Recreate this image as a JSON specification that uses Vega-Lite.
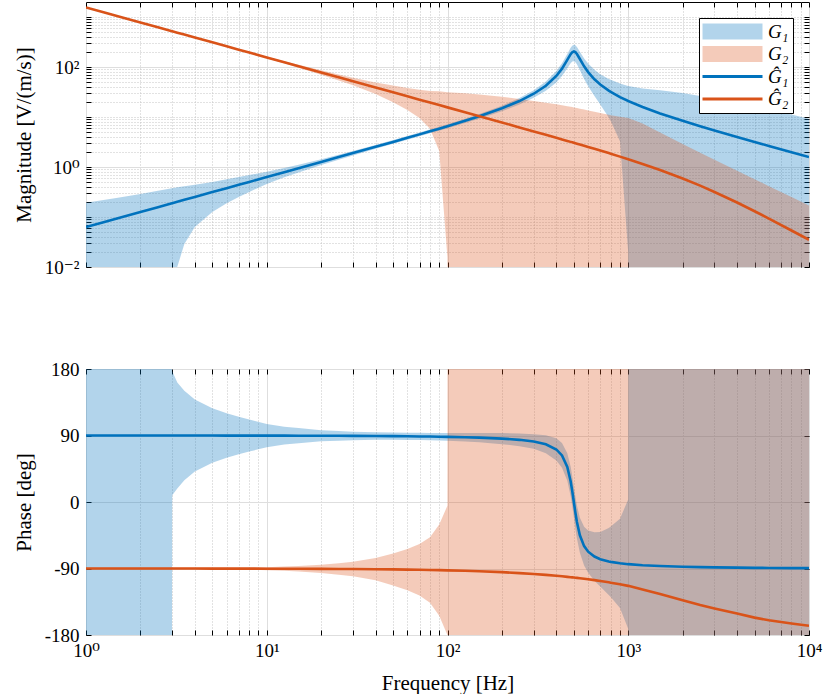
{
  "$schema": "https://vega.github.io/schema/vega-lite/v6.json",
  "padding": {"left": 12, "top": 1, "right": 20, "bottom": 0},
  "data": {"values": [
    {"f": 1, "g1": 0.063, "g1lo": 0.001, "g1hi": 0.192, "p1": 89.98, "p1lo": -180, "p1hi": 180, "g2": 1560, "g2lo": 1529, "g2hi": 1591, "p2": -90.02, "p2lo": -91.17, "p2hi": -88.87},
    {"f": 1.25, "g1": 0.0788, "g1lo": 0.001, "g1hi": 0.218, "p1": 89.98, "p1lo": -180, "p1hi": 180, "g2": 1248, "g2lo": 1223, "g2hi": 1273, "p2": -90.03, "p2lo": -91.18, "p2hi": -88.88},
    {"f": 1.5, "g1": 0.0945, "g1lo": 0.001, "g1hi": 0.243, "p1": 89.97, "p1lo": -180, "p1hi": 180, "g2": 1040, "g2lo": 1019, "g2hi": 1061, "p2": -90.04, "p2lo": -91.19, "p2hi": -88.89},
    {"f": 2, "g1": 0.126, "g1lo": 0.001, "g1hi": 0.29, "p1": 89.96, "p1lo": -180, "p1hi": 180, "g2": 780, "g2lo": 764, "g2hi": 796, "p2": -90.05, "p2lo": -91.2, "p2hi": -88.9},
    {"f": 2.5, "g1": 0.1575, "g1lo": 0.001, "g1hi": 0.335, "p1": 89.96, "p1lo": -180, "p1hi": 180, "g2": 624, "g2lo": 612, "g2hi": 636, "p2": -90.06, "p2lo": -91.21, "p2hi": -88.91},
    {"f": 2.99, "g1": 0.1884, "g1lo": 0.001, "g1hi": 0.377, "p1": 89.95, "p1lo": -180, "p1hi": 180, "g2": 521.7, "g2lo": 511, "g2hi": 532, "p2": -90.07, "p2lo": -91.22, "p2hi": -88.92},
    {"f": 3, "g1": 0.189, "g1lo": 0.001, "g1hi": 0.378, "p1": 89.95, "p1lo": 9, "p1hi": 177, "g2": 520, "g2lo": 510, "g2hi": 530, "p2": -90.07, "p2lo": -91.22, "p2hi": -88.92},
    {"f": 3.2, "g1": 0.2016, "g1lo": 0.0101, "g1hi": 0.393, "p1": 89.94, "p1lo": 18.2, "p1hi": 161.8, "g2": 487.5, "g2lo": 478, "g2hi": 497, "p2": -90.08, "p2lo": -91.23, "p2hi": -88.93},
    {"f": 3.5, "g1": 0.2205, "g1lo": 0.0287, "g1hi": 0.412, "p1": 89.94, "p1lo": 29.5, "p1hi": 150.5, "g2": 445.7, "g2lo": 437, "g2hi": 455, "p2": -90.09, "p2lo": -91.24, "p2hi": -88.94},
    {"f": 4, "g1": 0.252, "g1lo": 0.063, "g1hi": 0.441, "p1": 89.93, "p1lo": 41.4, "p1hi": 138.6, "g2": 390, "g2lo": 382, "g2hi": 398, "p2": -90.1, "p2lo": -91.25, "p2hi": -88.95},
    {"f": 5, "g1": 0.315, "g1lo": 0.126, "g1hi": 0.504, "p1": 89.91, "p1lo": 53.1, "p1hi": 126.9, "g2": 312, "g2lo": 306, "g2hi": 318, "p2": -90.12, "p2lo": -91.27, "p2hi": -88.97},
    {"f": 6, "g1": 0.378, "g1lo": 0.189, "g1hi": 0.567, "p1": 89.89, "p1lo": 60, "p1hi": 120, "g2": 260, "g2lo": 254.5, "g2hi": 265.5, "p2": -90.15, "p2lo": -91.35, "p2hi": -88.95},
    {"f": 7, "g1": 0.441, "g1lo": 0.251, "g1hi": 0.631, "p1": 89.88, "p1lo": 64.5, "p1hi": 115.5, "g2": 222.9, "g2lo": 218.1, "g2hi": 227.7, "p2": -90.17, "p2lo": -91.43, "p2hi": -88.91},
    {"f": 8, "g1": 0.504, "g1lo": 0.318, "g1hi": 0.69, "p1": 89.86, "p1lo": 68.3, "p1hi": 111.7, "g2": 195, "g2lo": 190.5, "g2hi": 199.5, "p2": -90.2, "p2lo": -91.52, "p2hi": -88.88},
    {"f": 10, "g1": 0.63, "g1lo": 0.46, "g1hi": 0.8, "p1": 89.82, "p1lo": 74.1, "p1hi": 105.5, "g2": 156, "g2lo": 150.5, "g2hi": 161.5, "p2": -90.25, "p2lo": -92.25, "p2hi": -88.25},
    {"f": 12.5, "g1": 0.788, "g1lo": 0.622, "g1hi": 0.953, "p1": 89.78, "p1lo": 77.8, "p1hi": 102, "g2": 124.8, "g2lo": 118.6, "g2hi": 131, "p2": -90.31, "p2lo": -93.18, "p2hi": -87.44},
    {"f": 15, "g1": 0.945, "g1lo": 0.775, "g1hi": 1.115, "p1": 89.74, "p1lo": 79.5, "p1hi": 100.3, "g2": 104, "g2lo": 97.2, "g2hi": 110.8, "p2": -90.37, "p2lo": -94.1, "p2hi": -86.64},
    {"f": 20, "g1": 1.262, "g1lo": 1.098, "g1hi": 1.426, "p1": 89.65, "p1lo": 82.2, "p1hi": 97.1, "g2": 78, "g2lo": 70.2, "g2hi": 85.8, "p2": -90.5, "p2lo": -96.24, "p2hi": -84.76},
    {"f": 25, "g1": 1.579, "g1lo": 1.397, "g1hi": 1.761, "p1": 89.56, "p1lo": 83, "p1hi": 96.2, "g2": 62.4, "g2lo": 54, "g2hi": 70.8, "p2": -90.62, "p2lo": -98.38, "p2hi": -82.86},
    {"f": 30, "g1": 1.897, "g1lo": 1.707, "g1hi": 2.087, "p1": 89.47, "p1lo": 83.7, "p1hi": 95.2, "g2": 52, "g2lo": 43.2, "g2hi": 60.8, "p2": -90.75, "p2lo": -100.54, "p2hi": -80.96},
    {"f": 40, "g1": 2.536, "g1lo": 2.308, "g1hi": 2.764, "p1": 89.29, "p1lo": 84.1, "p1hi": 94.5, "g2": 39, "g2lo": 28.9, "g2hi": 49.1, "p2": -91, "p2lo": -106.07, "p2hi": -75.93},
    {"f": 50, "g1": 3.182, "g1lo": 2.912, "g1hi": 3.452, "p1": 89.11, "p1lo": 84.2, "p1hi": 94, "g2": 31.2, "g2lo": 19.7, "g2hi": 42.7, "p2": -91.25, "p2lo": -112.97, "p2hi": -69.53},
    {"f": 60, "g1": 3.835, "g1lo": 3.509, "g1hi": 4.161, "p1": 88.93, "p1lo": 84.05, "p1hi": 93.8, "g2": 26, "g2lo": 13.8, "g2hi": 38.2, "p2": -91.49, "p2lo": -119.53, "p2hi": -63.45},
    {"f": 70, "g1": 4.498, "g1lo": 4.116, "g1hi": 4.88, "p1": 88.74, "p1lo": 83.86, "p1hi": 93.62, "g2": 22.28, "g2lo": 9.58, "g2hi": 35, "p2": -91.74, "p2lo": -126.49, "p2hi": -56.99},
    {"f": 80, "g1": 5.172, "g1lo": 4.722, "g1hi": 5.622, "p1": 88.55, "p1lo": 83.56, "p1hi": 93.54, "g2": 19.5, "g2lo": 5.85, "g2hi": 33.2, "p2": -91.99, "p2lo": -136.42, "p2hi": -47.56},
    {"f": 90, "g1": 5.86, "g1lo": 5.344, "g1hi": 6.376, "p1": 88.36, "p1lo": 83.31, "p1hi": 93.41, "g2": 17.33, "g2lo": 2.08, "g2hi": 32.6, "p2": -92.24, "p2lo": -153.88, "p2hi": -30.6},
    {"f": 99.9, "g1": 6.556, "g1lo": 5.966, "g1hi": 7.146, "p1": 88.16, "p1lo": 83, "p1hi": 93.32, "g2": 15.6, "g2lo": 0.0156, "g2hi": 31.2, "p2": -92.49, "p2lo": -179.93, "p2hi": -5.05},
    {"f": 100, "g1": 6.5625, "g1lo": 5.972, "g1hi": 7.153, "p1": 88.16, "p1lo": 83, "p1hi": 93.32, "g2": 15.59, "g2lo": 0.001, "g2hi": 31.2, "p2": -92.49, "p2lo": -180, "p2hi": 180},
    {"f": 125, "g1": 8.4, "g1lo": 7.56, "g1hi": 9.24, "p1": 87.65, "p1lo": 81.9, "p1hi": 93.4, "g2": 12.46, "g2lo": 0.001, "g2hi": 29.8, "p2": -93.11, "p2lo": -180, "p2hi": 180},
    {"f": 150, "g1": 10.385, "g1lo": 9.243, "g1hi": 11.527, "p1": 87.1, "p1lo": 80.8, "p1hi": 93.4, "g2": 10.38, "g2lo": 0.001, "g2hi": 28.3, "p2": -93.73, "p2lo": -180, "p2hi": 180},
    {"f": 200, "g1": 14.96, "g1lo": 13.015, "g1hi": 16.905, "p1": 85.81, "p1lo": 78.3, "p1hi": 93.3, "g2": 7.77, "g2lo": 0.001, "g2hi": 25.5, "p2": -94.97, "p2lo": -180, "p2hi": 180},
    {"f": 250, "g1": 20.89, "g1lo": 17.76, "g1hi": 24.02, "p1": 84.14, "p1lo": 75.5, "p1hi": 92.8, "g2": 6.205, "g2lo": 0.001, "g2hi": 23, "p2": -96.2, "p2lo": -180, "p2hi": 180},
    {"f": 300, "g1": 29.23, "g1lo": 24.26, "g1hi": 34.2, "p1": 81.8, "p1lo": 72, "p1hi": 91.6, "g2": 5.157, "g2lo": 0.001, "g2hi": 21, "p2": -97.43, "p2lo": -180, "p2hi": 180},
    {"f": 350, "g1": 42.3, "g1lo": 33.42, "g1hi": 51.18, "p1": 78.1, "p1lo": 66, "p1hi": 90.2, "g2": 4.406, "g2lo": 0.001, "g2hi": 19.4, "p2": -98.65, "p2lo": -180, "p2hi": 180},
    {"f": 400, "g1": 66.2, "g1lo": 49, "g1hi": 83.4, "p1": 71.1, "p1lo": 56, "p1hi": 86.2, "g2": 3.842, "g2lo": 0.001, "g2hi": 18, "p2": -99.87, "p2lo": -180, "p2hi": 180},
    {"f": 430, "g1": 92.8, "g1lo": 65.9, "g1hi": 119.7, "p1": 63.1, "p1lo": 46.2, "p1hi": 80, "g2": 3.567, "g2lo": 0.001, "g2hi": 17.2, "p2": -100.59, "p2lo": -180, "p2hi": 180},
    {"f": 460, "g1": 138.7, "g1lo": 94.3, "g1hi": 183.1, "p1": 47.4, "p1lo": 28.7, "p1hi": 66.1, "g2": 3.33, "g2lo": 0.001, "g2hi": 16.5, "p2": -101.31, "p2lo": -180, "p2hi": 180},
    {"f": 480, "g1": 180.9, "g1lo": 119.4, "g1hi": 242.4, "p1": 28, "p1lo": 8.1, "p1hi": 47.9, "g2": 3.184, "g2lo": 0.001, "g2hi": 16, "p2": -101.79, "p2lo": -180, "p2hi": 180},
    {"f": 490, "g1": 198, "g1lo": 128.7, "g1hi": 267.3, "p1": 14.7, "p1lo": -5.8, "p1hi": 35.2, "g2": 3.114, "g2lo": 0.001, "g2hi": 15.8, "p2": -102, "p2lo": -180, "p2hi": 180},
    {"f": 500, "g1": 204.8, "g1lo": 131.1, "g1hi": 278.5, "p1": 0, "p1lo": -21.1, "p1hi": 21.1, "g2": 3.048, "g2lo": 0.001, "g2hi": 15.5, "p2": -102.27, "p2lo": -180, "p2hi": 180},
    {"f": 510, "g1": 198.3, "g1lo": 124.9, "g1hi": 271.7, "p1": -14.4, "p1lo": -36.1, "p1hi": 7.3, "g2": 2.986, "g2lo": 0.001, "g2hi": 15.3, "p2": -102.5, "p2lo": -180, "p2hi": 180},
    {"f": 520, "g1": 182.4, "g1lo": 113.1, "g1hi": 251.7, "p1": -27, "p1lo": -49.3, "p1hi": -4.7, "g2": 2.925, "g2lo": 0.001, "g2hi": 15.1, "p2": -102.74, "p2lo": -180, "p2hi": 180},
    {"f": 540, "g1": 144.6, "g1lo": 86.8, "g1hi": 202.4, "p1": -45, "p1lo": -68.6, "p1hi": -21.4, "g2": 2.81, "g2lo": 0.001, "g2hi": 14.7, "p2": -103.21, "p2lo": -180, "p2hi": 180},
    {"f": 570, "g1": 103.4, "g1lo": 57.9, "g1hi": 148.9, "p1": -59.7, "p1lo": -85.8, "p1hi": -33.6, "g2": 2.653, "g2lo": 0.001, "g2hi": 14.1, "p2": -103.92, "p2lo": -180, "p2hi": 180},
    {"f": 600, "g1": 79.2, "g1lo": 41.2, "g1hi": 117.2, "p1": -67.2, "p1lo": -95.9, "p1hi": -38.5, "g2": 2.509, "g2lo": 0.001, "g2hi": 13.5, "p2": -104.62, "p2lo": -180, "p2hi": 180},
    {"f": 650, "g1": 57, "g1lo": 26.2, "g1hi": 87.8, "p1": -73.8, "p1lo": -106.5, "p1hi": -41.1, "g2": 2.307, "g2lo": 0.001, "g2hi": 12.7, "p2": -105.78, "p2lo": -180, "p2hi": 180},
    {"f": 700, "g1": 44.8, "g1lo": 17.9, "g1hi": 71.7, "p1": -77.35, "p1lo": -114.2, "p1hi": -40.5, "g2": 2.135, "g2lo": 0.001, "g2hi": 12, "p2": -106.93, "p2lo": -180, "p2hi": 180},
    {"f": 780, "g1": 33.8, "g1lo": 9.8, "g1hi": 57.8, "p1": -80.5, "p1lo": -125.7, "p1hi": -35.3, "g2": 1.9, "g2lo": 0.001, "g2hi": 11.1, "p2": -108.73, "p2lo": -180, "p2hi": 180},
    {"f": 800, "g1": 31.9, "g1lo": 8.29, "g1hi": 55.5, "p1": -81, "p1lo": -128.7, "p1hi": -33.3, "g2": 1.848, "g2lo": 0.001, "g2hi": 10.8, "p2": -109.18, "p2lo": -180, "p2hi": 180},
    {"f": 900, "g1": 25.1, "g1lo": 3.26, "g1hi": 46.9, "p1": -82.95, "p1lo": -143.5, "p1hi": -22.5, "g2": 1.614, "g2lo": 0.001, "g2hi": 10.1, "p2": -111.37, "p2lo": -180, "p2hi": 180},
    {"f": 999, "g1": 20.9, "g1lo": 0.02, "g1hi": 41.8, "p1": -84.14, "p1lo": -171.5, "p1hi": 3.3, "g2": 1.431, "g2lo": 0.001, "g2hi": 9.6, "p2": -113.48, "p2lo": -180, "p2hi": 180},
    {"f": 1000, "g1": 20.9, "g1lo": 0.001, "g1hi": 41.8, "p1": -84.14, "p1lo": -180, "p1hi": 180, "g2": 1.43, "g2lo": 0.001, "g2hi": 9.6, "p2": -113.5, "p2lo": -180, "p2hi": 180},
    {"f": 1200, "g1": 15.84, "g1lo": 0.001, "g1hi": 37.2, "p1": -85.57, "p1lo": -180, "p1hi": 180, "g2": 1.153, "g2lo": 0.001, "g2hi": 7.4, "p2": -118.5, "p2lo": -180, "p2hi": 180},
    {"f": 1500, "g1": 11.79, "g1lo": 0.001, "g1hi": 34.2, "p1": -86.7, "p1lo": -180, "p1hi": 180, "g2": 0.871, "g2lo": 0.001, "g2hi": 4.9, "p2": -124.5, "p2lo": -180, "p2hi": 180},
    {"f": 2000, "g1": 8.39, "g1lo": 0.001, "g1hi": 30.2, "p1": -87.65, "p1lo": -180, "p1hi": 180, "g2": 0.589, "g2lo": 0.001, "g2hi": 2.9, "p2": -133, "p2lo": -180, "p2hi": 180},
    {"f": 2500, "g1": 6.56, "g1lo": 0.001, "g1hi": 26.2, "p1": -88.16, "p1lo": -180, "p1hi": 180, "g2": 0.4246, "g2lo": 0.001, "g2hi": 1.93, "p2": -139.5, "p2lo": -180, "p2hi": 180},
    {"f": 3000, "g1": 5.4, "g1lo": 0.001, "g1hi": 23.5, "p1": -88.49, "p1lo": -180, "p1hi": 180, "g2": 0.3165, "g2lo": 0.001, "g2hi": 1.4, "p2": -144, "p2lo": -180, "p2hi": 180},
    {"f": 4000, "g1": 4, "g1lo": 0.001, "g1hi": 19.2, "p1": -88.88, "p1lo": -180, "p1hi": 180, "g2": 0.1947, "g2lo": 0.001, "g2hi": 0.845, "p2": -151, "p2lo": -180, "p2hi": 180},
    {"f": 5000, "g1": 3.18, "g1lo": 0.001, "g1hi": 16.4, "p1": -89.11, "p1lo": -180, "p1hi": 180, "g2": 0.1305, "g2lo": 0.001, "g2hi": 0.571, "p2": -156.5, "p2lo": -180, "p2hi": 180},
    {"f": 6000, "g1": 2.643, "g1lo": 0.001, "g1hi": 14.27, "p1": -89.26, "p1lo": -180, "p1hi": 180, "g2": 0.0929, "g2lo": 0.001, "g2hi": 0.413, "p2": -160, "p2lo": -180, "p2hi": 180},
    {"f": 8000, "g1": 1.976, "g1lo": 0.001, "g1hi": 11.26, "p1": -89.45, "p1lo": -180, "p1hi": 180, "g2": 0.0537, "g2lo": 0.001, "g2hi": 0.251, "p2": -164.5, "p2lo": -180, "p2hi": 180},
    {"f": 10000, "g1": 1.579, "g1lo": 0.001, "g1hi": 9.24, "p1": -89.56, "p1lo": -180, "p1hi": 180, "g2": 0.035, "g2lo": 0.001, "g2hi": 0.169, "p2": -167.5, "p2lo": -180, "p2hi": 180}
  ]},
  "spacing": 81,
  "vconcat": [
    {
      "width": 723,
      "height": 265,
      "resolve": {"axis": {"x": "independent", "y": "independent"}},
      "layer": [
        {
          "encoding": {
            "x": {
              "field": "f", "type": "quantitative",
              "scale": {"type": "log", "domain": [1, 10000], "nice": false},
              "axis": {
                "orient": "bottom",
                "values": [1, 2, 3, 4, 5, 6, 7, 8, 9, 10, 20, 30, 40, 50, 60, 70, 80, 90, 100, 200, 300, 400, 500, 600, 700, 800, 900, 1000, 2000, 3000, 4000, 5000, 6000, 7000, 8000, 9000, 10000],
                "labels": false, "title": null, "domain": false, "tickSize": -5,
                "gridDash": {"condition": {"test": "abs(log(datum.value)/LN10 - round(log(datum.value)/LN10)) < 0.001", "value": []}, "value": [1, 2]},
                "gridColor": {"condition": {"test": "abs(log(datum.value)/LN10 - round(log(datum.value)/LN10)) < 0.001", "value": "#dedede"}, "value": "#c4c4c4"}
              }
            }
          },
          "layer": [
            {
              "mark": {"type": "area", "fillOpacity": 0.3, "clip": true},
              "encoding": {
                "y": {
                  "field": "g1lo", "type": "quantitative",
                  "scale": {"type": "log", "domain": [0.01, 2000], "nice": false},
                  "axis": {
                    "orient": "left",
                    "values": [0.01, 0.02, 0.03, 0.04, 0.05, 0.06, 0.07, 0.08, 0.09, 0.1, 0.2, 0.3, 0.4, 0.5, 0.6, 0.7, 0.8, 0.9, 1, 2, 3, 4, 5, 6, 7, 8, 9, 10, 20, 30, 40, 50, 60, 70, 80, 90, 100, 200, 300, 400, 500, 600, 700, 800, 900, 1000],
                    "labelExpr": "datum.value == 0.01 ? '10⁻²' : datum.value == 1 ? '10⁰' : datum.value == 100 ? '10²' : ''",
                    "title": "Magnitude [V/(m/s)]", "titlePadding": 10,
                    "domain": false, "tickSize": -5, "labelPadding": 12,
                    "gridDash": {"condition": {"test": "datum.value == 0.01 || datum.value == 1 || datum.value == 100", "value": []}, "value": [1, 2]},
                    "gridColor": {"condition": {"test": "datum.value == 0.01 || datum.value == 1 || datum.value == 100", "value": "#dedede"}, "value": "#c4c4c4"}
                  }
                },
                "y2": {"field": "g1hi"},
                "color": {
                  "datum": "G₁", "type": "nominal",
                  "scale": {"domain": ["G₁", "G₂", "Ĝ₁", "Ĝ₂"], "range": ["#0072BD", "#D95319", "#0072BD", "#D95319"]},
                  "legend": {
                    "title": null, "orient": "top-right", "offset": 16,
                    "strokeColor": "black", "fillColor": "white", "padding": 4,
                    "symbolSize": 400, "symbolOffset": 20, "labelOffset": 26, "rowPadding": 2.5,
                    "labelFont": "'Liberation Serif', 'DejaVu Serif', serif", "labelFontSize": 19, "labelFontStyle": "italic", "labelColor": "black",
                    "encode": {
                      "symbols": {
                        "update": {
                          "shape": {"signal": "datum.value == 'G₁' || datum.value == 'G₂' ? 'M-3,-0.8H3V0.8H-3Z' : 'M-3,0H3'"},
                          "fill": {"signal": "datum.value == 'G₁' ? '#0072BD' : datum.value == 'G₂' ? '#D95319' : 'transparent'"},
                          "fillOpacity": {"value": 0.3},
                          "stroke": {"signal": "datum.value == 'Ĝ₁' ? '#0072BD' : datum.value == 'Ĝ₂' ? '#D95319' : 'transparent'"},
                          "strokeWidth": {"signal": "datum.value == 'Ĝ₁' || datum.value == 'Ĝ₂' ? 3 : 0"},
                          "strokeOpacity": {"value": 1},
                          "opacity": {"value": 1}
                        }
                      }
                    }
                  }
                }
              }
            },
            {
              "mark": {"type": "area", "fillOpacity": 0.3, "clip": true},
              "encoding": {
                "y": {"field": "g2lo", "type": "quantitative"},
                "y2": {"field": "g2hi"},
                "color": {"datum": "G₂", "type": "nominal"}
              }
            },
            {
              "mark": {"type": "line", "strokeWidth": 2.6, "clip": true},
              "encoding": {
                "y": {"field": "g1", "type": "quantitative"},
                "color": {"datum": "Ĝ₁", "type": "nominal"}
              }
            },
            {
              "mark": {"type": "line", "strokeWidth": 2.6, "clip": true},
              "encoding": {
                "y": {"field": "g2", "type": "quantitative"},
                "color": {"datum": "Ĝ₂", "type": "nominal"}
              }
            }
          ]
        },
        {
          "mark": {"type": "line", "opacity": 0, "clip": true},
          "encoding": {
            "x": {
              "field": "f", "type": "quantitative",
              "axis": {
                "orient": "top", "grid": false, "labels": false, "title": null, "domain": false, "tickSize": -5,
                "values": [1, 2, 3, 4, 5, 6, 7, 8, 9, 10, 20, 30, 40, 50, 60, 70, 80, 90, 100, 200, 300, 400, 500, 600, 700, 800, 900, 1000, 2000, 3000, 4000, 5000, 6000, 7000, 8000, 9000, 10000]
              }
            },
            "y": {
              "field": "g1", "type": "quantitative",
              "axis": {
                "orient": "right", "grid": false, "labels": false, "title": null, "domain": false, "tickSize": -5,
                "values": [0.01, 0.02, 0.03, 0.04, 0.05, 0.06, 0.07, 0.08, 0.09, 0.1, 0.2, 0.3, 0.4, 0.5, 0.6, 0.7, 0.8, 0.9, 1, 2, 3, 4, 5, 6, 7, 8, 9, 10, 20, 30, 40, 50, 60, 70, 80, 90, 100, 200, 300, 400, 500, 600, 700, 800, 900, 1000]
              }
            }
          }
        }
      ]
    },
    {
      "width": 723,
      "height": 266,
      "resolve": {"axis": {"x": "independent", "y": "independent"}},
      "layer": [
        {
          "encoding": {
            "x": {
              "field": "f", "type": "quantitative",
              "scale": {"type": "log", "domain": [1, 10000], "nice": false},
              "axis": {
                "orient": "bottom",
                "values": [1, 2, 3, 4, 5, 6, 7, 8, 9, 10, 20, 30, 40, 50, 60, 70, 80, 90, 100, 200, 300, 400, 500, 600, 700, 800, 900, 1000, 2000, 3000, 4000, 5000, 6000, 7000, 8000, 9000, 10000],
                "labelExpr": "datum.value == 1 ? '10⁰' : datum.value == 10 ? '10¹' : datum.value == 100 ? '10²' : datum.value == 1000 ? '10³' : datum.value == 10000 ? '10⁴' : ''",
                "title": "Frequency [Hz]", "titlePadding": 12,
                "domain": false, "tickSize": -5, "labelPadding": 11,
                "gridDash": {"condition": {"test": "abs(log(datum.value)/LN10 - round(log(datum.value)/LN10)) < 0.001", "value": []}, "value": [1, 2]},
                "gridColor": {"condition": {"test": "abs(log(datum.value)/LN10 - round(log(datum.value)/LN10)) < 0.001", "value": "#dedede"}, "value": "#c4c4c4"}
              }
            }
          },
          "layer": [
            {
              "mark": {"type": "area", "color": "#0072BD", "fillOpacity": 0.3, "clip": true},
              "encoding": {
                "y": {
                  "field": "p1lo", "type": "quantitative",
                  "scale": {"domain": [-180, 180], "nice": false},
                  "axis": {
                    "orient": "left",
                    "values": [-180, -90, 0, 90, 180],
                    "labelExpr": "datum.value < 0 ? '-' + abs(datum.value) : '' + datum.value",
                    "title": "Phase [deg]", "titlePadding": 10,
                    "domain": false, "tickSize": -5, "labelPadding": 12, "gridColor": "#dedede"
                  }
                },
                "y2": {"field": "p1hi"}
              }
            },
            {
              "mark": {"type": "area", "color": "#D95319", "fillOpacity": 0.3, "clip": true},
              "encoding": {
                "y": {"field": "p2lo", "type": "quantitative"},
                "y2": {"field": "p2hi"}
              }
            },
            {
              "mark": {"type": "line", "color": "#0072BD", "strokeWidth": 2.6, "clip": true},
              "encoding": {"y": {"field": "p1", "type": "quantitative"}}
            },
            {
              "mark": {"type": "line", "color": "#D95319", "strokeWidth": 2.6, "clip": true},
              "encoding": {"y": {"field": "p2", "type": "quantitative"}}
            }
          ]
        },
        {
          "mark": {"type": "line", "opacity": 0, "clip": true},
          "encoding": {
            "x": {
              "field": "f", "type": "quantitative",
              "axis": {
                "orient": "top", "grid": false, "labels": false, "title": null, "domain": false, "tickSize": -5,
                "values": [1, 2, 3, 4, 5, 6, 7, 8, 9, 10, 20, 30, 40, 50, 60, 70, 80, 90, 100, 200, 300, 400, 500, 600, 700, 800, 900, 1000, 2000, 3000, 4000, 5000, 6000, 7000, 8000, 9000, 10000]
              }
            },
            "y": {
              "field": "p1", "type": "quantitative",
              "axis": {
                "orient": "right", "grid": false, "labels": false, "title": null, "domain": false, "tickSize": -5,
                "values": [-180, -90, 0, 90, 180]
              }
            }
          }
        }
      ]
    }
  ],
  "config": {
    "view": {"stroke": "black", "strokeWidth": 1},
    "font": "'Liberation Serif', 'DejaVu Serif', serif",
    "axis": {
      "labelFont": "'Liberation Serif', 'DejaVu Serif', serif", "titleFont": "'Liberation Serif', 'DejaVu Serif', serif",
      "labelFontSize": 19, "titleFontSize": 21, "titleFontWeight": "normal",
      "labelColor": "black", "titleColor": "black", "tickColor": "black",
      "labelOverlap": false, "labelFlush": false, "gridWidth": 1
    }
  }
}
